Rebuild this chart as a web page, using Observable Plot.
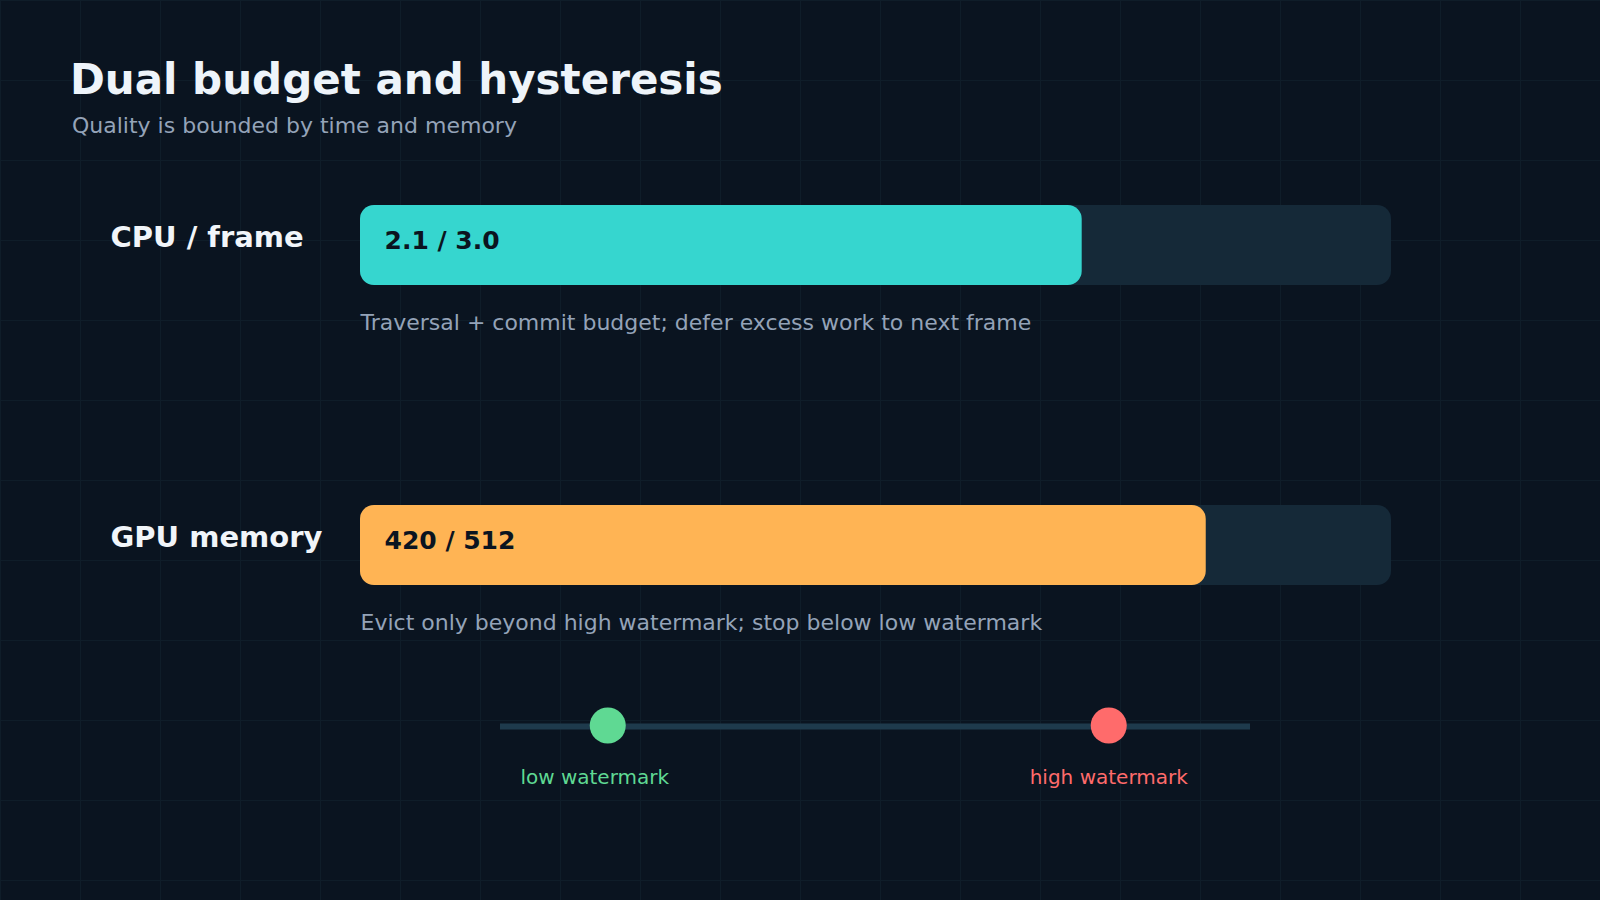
<!DOCTYPE html>
<html>
<head>
<meta charset="utf-8">
<script src="https://cdn.jsdelivr.net/npm/d3@7"></script>
<script src="https://cdn.jsdelivr.net/npm/@observablehq/plot@0.6"></script>
<style>
  html, body {
    margin: 0; padding: 0; width: 1600px; height: 900px; overflow: hidden;
    background-color: #0a1420;
    background-image:
      linear-gradient(to right, #0f1d29 1px, transparent 1px),
      linear-gradient(to bottom, #0f1d29 1px, transparent 1px);
    background-size: 80px 80px;
    font-family: "DejaVu Sans", sans-serif;
  }
  #title { position: absolute; left: 70px; top: 59px; font: bold 42px/1 "DejaVu Sans"; color: #eef4fa; white-space: nowrap; }
  #subtitle { position: absolute; left: 72px; top: 115px; font: 22px/1 "DejaVu Sans"; color: #94a3b8; white-space: nowrap; }
  #bars { position: absolute; left: 0; top: 160px; }
  #marks { position: absolute; left: 0; top: 656px; }
</style>
</head>
<body>
<div id="title">Dual budget and hysteresis</div>
<div id="subtitle">Quality is bounded by time and memory</div>
<div id="bars"></div>
<div id="marks"></div>
<script>
// ---- data ----
const categories = ["CPU / frame", "GPU memory"];
const usedValues = [2.1, 420];
const budgetValues = [3.0, 512];
const valueLabels = ["2.1 / 3.0", "420 / 512"];
const notes = [
  "Traversal + commit budget; defer excess work to next frame",
  "Evict only beyond high watermark; stop below low watermark"
];
const watermarkNames = ["low watermark", "high watermark"];
const watermarkLevels = [0.143, 0.811]; // share of the hysteresis track

// ---- tables built from the arrays ----
const rows = categories.map((c, i) => ({
  label: c,
  used: usedValues[i],
  budget: budgetValues[i],
  share: usedValues[i] / budgetValues[i],
  value: valueLabels[i],
  note: notes[i]
}));
const watermarks = watermarkNames.map((n, i) => ({name: n, level: watermarkLevels[i]}));

const font = "DejaVu Sans";

const bars = Plot.plot({
  width: 1600,
  height: 496,
  margin: 0,
  style: {background: "transparent", fontFamily: font, overflow: "visible"},
  x: {domain: [0, 1], range: [360, 1391], axis: null},
  y: {type: "band", domain: categories, range: [45, 426], paddingInner: 0.7333, paddingOuter: 0, axis: null},
  color: {domain: categories, range: ["#36d6cf", "#ffb454"]},
  marks: [
    Plot.barX(rows, {y: "label", x1: 0, x2: 1, fill: "#152938", rx: 14}),
    Plot.barX(rows, {y: "label", x1: 0, x2: "share", fill: "label", rx: 14}),
    Plot.text(rows, {y: "label", text: "label", frameAnchor: "left", dx: 110, dy: -8,
      textAnchor: "start", fontSize: 29, fontWeight: "bold", fill: "#f1f5f9"}),
    Plot.text(rows, {y: "label", x: 0, text: "value", dx: 24, dy: -4.5,
      textAnchor: "start", fontSize: 25, fontWeight: "bold", fill: "#0b1420"}),
    Plot.text(rows, {y: "label", x: 0, text: "note", dy: 77.5,
      textAnchor: "start", fontSize: 22, fill: "#94a3b8"})
  ]
});
document.getElementById("bars").append(bars);

const wm = Plot.plot({
  width: 1600,
  height: 140,
  margin: 0,
  style: {background: "transparent", fontFamily: font, overflow: "visible"},
  x: {domain: [0, 1], range: [500, 1250], axis: null},
  y: {domain: [-1, 1], range: [140, 0], axis: null},
  color: {domain: watermarkNames, range: ["#5fd993", "#ff6b6b"]},
  marks: [
    Plot.ruleY([0], {x1: 0, x2: 1, stroke: "#1e3a4c", strokeWidth: 6}),
    Plot.dot(watermarks, {x: "level", y: 0, r: 18, fill: "name", dy: -1}),
    Plot.text(watermarks.filter(d => d.name === "low watermark"),
      {x: "level", y: 0, text: "name", fill: "name", dx: -13, dy: 51, fontSize: 20}),
    Plot.text(watermarks.filter(d => d.name === "high watermark"),
      {x: "level", y: 0, text: "name", fill: "name", dx: 0, dy: 51, fontSize: 20})
  ]
});
document.getElementById("marks").append(wm);
</script>
</body>
</html>
